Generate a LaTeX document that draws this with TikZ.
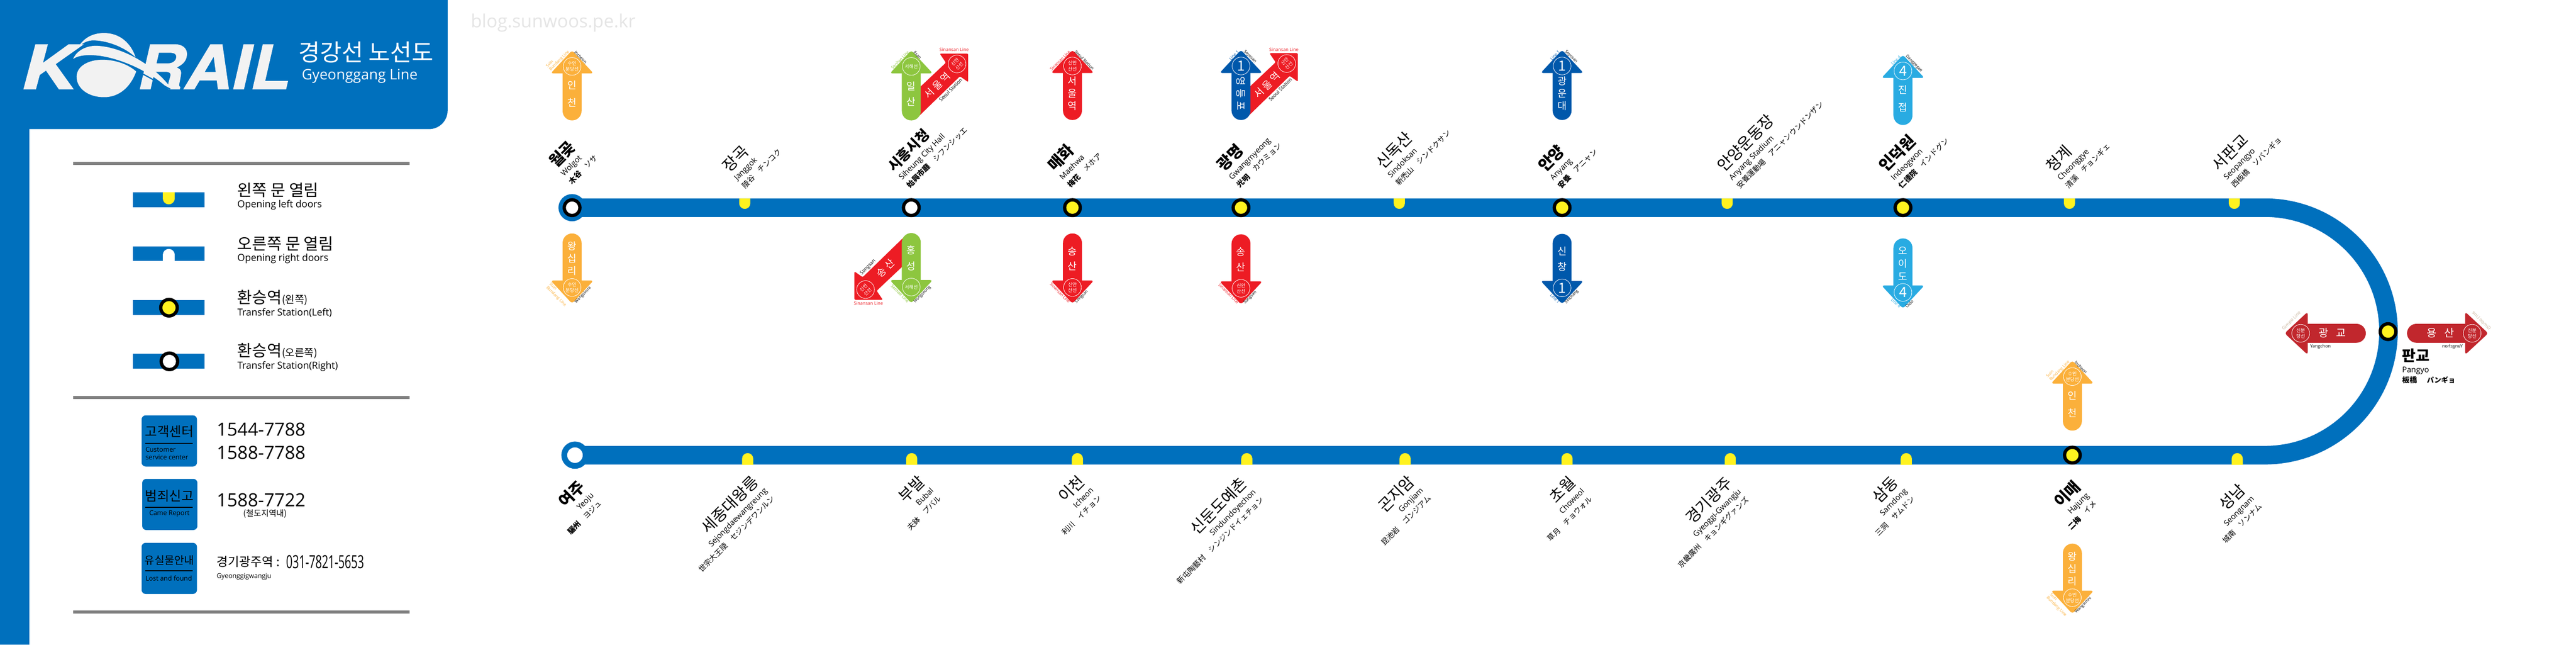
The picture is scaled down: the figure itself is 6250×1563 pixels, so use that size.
\documentclass[tikz,border=0pt]{standalone}
\usepackage{fontspec}
\setmainfont{Open Sans}
\newfontfamily\krfont{Noto Sans CJK KR}
\newfontfamily\jpfont{Noto Sans CJK JP}
\newfontfamily\logofont[FakeBold=1.5]{TeX Gyre Heros}
\newcommand{\fs}[1]{\fontsize{#1}{#1}\selectfont}
\definecolor{korblue}{HTML}{0070BD}
\definecolor{dooryel}{HTML}{FFF21F}
\definecolor{suinc}{HTML}{FBB03B}
\definecolor{seohaec}{HTML}{8DC63F}
\definecolor{sinanc}{HTML}{ED1C24}
\definecolor{lineonec}{HTML}{0058AB}
\definecolor{linefourc}{HTML}{29ABE2}
\definecolor{gimpoc}{HTML}{C1272D}
\definecolor{gimpolbl}{HTML}{C7B299}
\tikzset{
  stnup/.style={rotate=45,anchor=south west,align=left,inner sep=0pt,font=\fontsize{19}{24}\selectfont},
  stndn/.style={rotate=45,anchor=north east,align=right,inner sep=0pt,font=\fontsize{19}{24}\selectfont},
  ringyel/.style={circle,draw=black,fill=dooryel,line width=8pt,minimum size=38pt,inner sep=0pt},
  ringwht/.style={circle,draw=black,fill=white,line width=8pt,minimum size=38pt,inner sep=0pt},
  signcirc/.style={circle,draw=white,line width=1pt,minimum size=43pt,inner sep=0pt,align=center,text=white,font=\krfont\fontsize{11.5}{14}\selectfont},
  signtxt/.style={align=center,inner sep=0pt,text=white,font=\krfont\fontsize{24}{26}\selectfont},
  sidelbl/.style={inner sep=1pt,align=left,font=\fontsize{10}{11}\selectfont},
  legko/.style={anchor=west,inner sep=0pt,font=\krfont\fontsize{39}{41}\selectfont},
  legen/.style={anchor=west,inner sep=0pt,font=\fontsize{23.5}{26}\selectfont},
  phone/.style={anchor=west,inner sep=0pt,font=\fontsize{44}{46}\selectfont},
  infobox/.style={fill=korblue,rounded corners=10pt},
  infoko/.style={inner sep=0pt,font=\krfont\fontsize{32}{33}\selectfont},
  infoen/.style={inner sep=0pt,align=left,font=\fontsize{16}{18}\selectfont}
}
% up or down sign: x, tip y, direction, colour, circle, shaft, left, right, name
\newcommand{\linesign}[9]{
\begin{scope}[shift={(#1,#2)},yscale=#3,name prefix=#9-]
\ifnum#3=1 \def\lblL{south east}\def\lblR{south west}\def\nameY{103}\else \def\lblL{north east}\def\lblR{north west}\def\nameY{106}\fi
\fill[#4,rounded corners=6pt] (0,-3) -- (52,53) -- (-52,53) -- cycle;
\fill[#4] (-23,45) -- (23,45) -- (23,144) arc[start angle=0,end angle=180,radius=23] -- cycle;
\node[signcirc] (circ) at (0,36) {#5};
\node[signtxt] (name) at (0,\nameY) {#6};
\node[sidelbl,text=#4,rotate=45*#3,anchor=\lblL] (lbl) at (-3,3) {#7};
\node[sidelbl,rotate=-45*#3,anchor=\lblR] (dst) at (3,3) {#8};
\end{scope}
}
% the red Sinansan sign behind a line sign
\newcommand{\seoulsign}[6]{
\begin{scope}[shift={(#1,#2)},xscale=#3,yscale=#3,name prefix=#6-]
\ifnum#3=1 \def\lblS{north east}\else \def\lblS{south west}\fi
\fill[sinanc,rounded corners=3pt] (15,92) -- (84,27) -- (69,5) -- (138,5) -- (138,74) -- (118,60) -- (15,160) -- cycle;
\node[signcirc,rotate=45] (circ) at (111,30) {신안\\산선};
\node[signtxt,rotate=45] (name) at (63,82) {#4};
\node[sidelbl,text=sinanc,font=\fontsize{11}{12}\selectfont] (lbl) at (104,-4) {Sinansan Line};
\node[sidelbl,rotate=45,anchor=\lblS,font=\fontsize{12}{13}\selectfont] (dst) at (118,62) {#5};
\end{scope}
}
% side sign at Pangyo: tip x, y, direction, text, name
\newcommand{\gimposign}[5]{
\begin{scope}[shift={(#1,#2)},xscale=#3,name prefix=#5-]
\fill[gimpoc,rounded corners=6pt] (-3,0) -- (53,-52) -- (53,52) -- cycle;
\fill[gimpoc] (45,-23) -- (171,-23) arc[start angle=-90,end angle=90,radius=23] -- (45,23) -- cycle;
\node[signcirc] (circ) at (36,0) {신분\\당선};
\node[signtxt,font=\krfont\fontsize{26}{28}\selectfont] (name) at (113,-1) {#4};
\end{scope}
}
\begin{document}
\begin{tikzpicture}[x=1pt,y=1pt,yscale=-1]
\useasboundingbox (0,0) rectangle (6250,1563);
\fill[white] (0,0) rectangle (6250,1563);
% header and left bar
\fill[korblue] (0,0) -- (1086,0) -- (1086,268) arc[start angle=0,end angle=90,radius=45] -- (71,313) -- (71,1563) -- (0,1563) -- cycle;
\begin{scope}[xscale=0.765,yscale=0.51]
\fill[white!95!black] (245,232) .. controls (262,185) and (290,157) .. (330,157) .. controls (380,157) and (415,205) .. (430,272) .. controls (395,225) and (345,195) .. (300,192) .. controls (275,190) and (255,210) .. (245,232) -- cycle;
\fill[white!95!black] (232,280) .. controls (245,235) and (280,215) .. (310,218) .. controls (390,225) and (490,310) .. (545,424) -- (535,424) .. controls (490,355) and (400,285) .. (320,266) .. controls (280,258) and (250,262) .. (232,280) -- cycle;
\fill[white!95!black] (243,365) .. controls (243,315) and (280,284) .. (325,284) .. controls (370,284) and (410,310) .. (432,340) .. controls (415,410) and (380,462) .. (330,462) .. controls (280,462) and (243,420) .. (243,365) -- cycle;
\end{scope}
\node[anchor=west,inner sep=0pt,text=white!95!black,xscale=1.25,font=\logofont\bfseries\itshape\fontsize{147}{150}\selectfont] (logoK) at (52,162) {K};
\node[anchor=west,inner sep=0pt,text=white!95!black,xscale=1.08,font=\logofont\bfseries\itshape\fontsize{147}{150}\selectfont] (logoR) at (334,162) {RAIL};
\draw[korblue,line width=3pt] (331,172) .. controls (360,185) and (390,205) .. (413,216);
\node[anchor=west,inner sep=0pt,text=white,font=\krfont\fontsize{57}{59}\selectfont] (title) at (724,127) {경강선 노선도};
\node[anchor=west,inner sep=0pt,text=white,font=\fontsize{35}{38}\selectfont] (titleen) at (732,184) {Gyeonggang Line};
\node[anchor=west,inner sep=0pt,text=black!10,font=\fontsize{44}{46}\selectfont] (blog) at (1142,56) {blog.sunwoos.pe.kr};
% legend
\foreach \ly in {396,963.5,1484} \fill[gray] (177,\ly-3.5) rectangle (994,\ly+3.5);
\foreach \ly in {484,615,746,876} \fill[korblue] (322,\ly-18) rectangle (496.5,\ly+18);
\fill[dooryel] (395,466) -- (395,481) arc[start angle=180,end angle=0,radius=14.5] -- (424,466) -- cycle;
\fill[white] (395,633) -- (395,618) arc[start angle=-180,end angle=0,radius=14.5] -- (424,633) -- cycle;
\node[ringyel,minimum size=40pt] (legY) at (410,746) {};
\node[ringwht,minimum size=40pt] (legW) at (411,876) {};
\node[legko] (lg1) at (576,461) {왼쪽 문 열림};
\node[legen] (lg1e) at (576,497) {Opening left doors};
\node[legko] (lg2) at (576,591) {오른쪽 문 열림};
\node[legen] (lg2e) at (576,627.5) {Opening right doors};
\node[legko] (lg3) at (576,722) {환승역{\fontsize{25}{27}\selectfont(왼쪽)}};
\node[legen] (lg3e) at (576,759) {Transfer Station(Left)};
\node[legko] (lg4) at (576,851) {환승역{\fontsize{25}{27}\selectfont(오른쪽)}};
\node[legen] (lg4e) at (576,888.5) {Transfer Station(Right)};
% info boxes
\fill[infobox] (343.5,1007) rectangle (478,1131);
\fill[infobox] (345,1161) rectangle (479,1285);
\fill[infobox] (343.5,1316) rectangle (478,1440);
\foreach \ly in {1075,1230,1384} \fill[black] (353,\ly-1.5) rectangle (468,\ly+1.5);
\node[infoko] (cs) at (411,1046) {고객센터};
\node[infoen,anchor=north west] (cse) at (353,1084) {Customer\\service center};
\node[infoko] (cr) at (411,1202) {범죄신고};
\node[infoen] (cre) at (411,1246) {Came Report};
\node[infoko,font=\krfont\fontsize{26}{28}\selectfont] (lf) at (411,1358) {유실물안내};
\node[infoen,anchor=west] (lfe) at (353,1402) {Lost and found};
\node[phone] (ph1) at (525.6,1041) {1544-7788};
\node[phone] (ph2) at (525.6,1098) {1588-7788};
\node[phone] (ph3) at (525.6,1213) {1588-7722};
\node[inner sep=0pt,font=\krfont\fontsize{20}{22}\selectfont] (ph3n) at (643,1246) {(철도지역내)};
\node[anchor=west,inner sep=0pt,font=\krfont\fontsize{30}{32}\selectfont] (ph4) at (525.6,1362) {경기광주역 :};
\node[anchor=west,inner sep=0pt,xscale=0.62,font=\fontsize{44}{46}\selectfont] (ph4n) at (694,1362) {031-7821-5653};
\node[anchor=west,inner sep=0pt,font=\fontsize{16}{18}\selectfont] (ph4e) at (525.6,1398.5) {Gyeonggigwangju};
% the line
\coordinate (wolgot) at (1388,503.5);
\coordinate (yeoju) at (1395,1103.5);
\fill[korblue] (wolgot) circle[radius=33];
\draw[korblue,line width=45pt] (wolgot) -- (5495,503.5) .. controls (5661,503.5) and (5795,637.8) .. (5795,803.5) .. controls (5795,969.2) and (5661,1103.5) .. (5495,1103.5) -- (yeoju);
\foreach \sx in {1807,3395,4190.5,5021,5421} \fill[dooryel] (\sx-13.5,481) -- (\sx-13.5,493) arc[start angle=180,end angle=0,radius=13.5] -- (\sx+13.5,481) -- cycle;
\foreach \sx in {1814,2212,2614,3025,3409,3802,4198,4625,5428} \fill[dooryel] (\sx-13.5,1127) -- (\sx-13.5,1112) arc[start angle=-180,end angle=0,radius=13.5] -- (\sx+13.5,1127) -- cycle;
\node[ringwht] (stWolgot) at (wolgot) {};
\node[circle,draw=korblue,fill=white,line width=14pt,minimum size=52pt,inner sep=0pt] (stYeoju) at (yeoju) {};
\node[ringwht] (stSiheung) at (2211,503.5) {};
\node[ringyel] (stMaehwa) at (2602,503.5) {};
\node[ringyel] (stGwangmyeong) at (3011,503.5) {};
\node[ringyel] (stAnyang) at (3790,503.5) {};
\node[ringyel] (stIndeogwon) at (4617,503.5) {};
\node[ringyel] (stPangyo) at (5794,804) {};
\node[ringyel] (stImae) at (5028,1103.5) {};
% station names over the line
\foreach \ax/\ay/\wt/\ko/\en/\ha/\ka [count=\i] in {
  1389/449/\bfseries/월곶/Wolgot/木谷/ソサ,
  1809/459/\mdseries/장곡/Janggok/陵谷/チンコク,
  2209/458/\bfseries/\fs{34}시흥시청/Siheung City Hall/始興市廳/シフンシッエ,
  2599/457/\bfseries/매화/Maehwa/梅花/メホア,
  3010/457/\bfseries/광명/Gwangmyeong/光明/カウミョン,
  3395/452/\mdseries/신독산/Sindoksan/新禿山/シンドクサン,
  3789/459/\bfseries/안양/Anyang/安養/アニャン,
  4223/459/\mdseries/안양운동장/Anyang Stadium/安養運動場/アニャンウンドンザン,
  4616/459/\bfseries/인덕원/Indeogwon/仁德院/インドグン,
  5020/459/\mdseries/청계/Cheonggye/清溪/チョンギェ,
  5423/457/\mdseries/서판교/Seopangyo/西板橋/ソパンギョ}
  \node[stnup] (up\i) at (\ax,\ay) {{\krfont\wt\fs{38}\ko}\\[4pt]\en\\[3pt]{\krfont\wt\fs{18}\ha}\hspace{18pt}{\jpfont\fs{18}\ka}};
% station names under the line
\foreach \ax/\ay/\wt/\ko/\en/\ha/\ka [count=\i] in {
  1399/1160/\bfseries/여주/Yeoju/驪州/ヨジュ,
  1820/1149/\mdseries/세종대왕릉/Sejongdaewangreung/世宗大王陵/セジンデワンルン,
  2224/1149/\mdseries/부발/Bubal/夫鉢/プバル,
  2612/1148/\mdseries/이천/Icheon/利川/イチョン,
  3006/1152/\mdseries/신둔도예촌/Sindundoyechon/新屯陶藝村/シンジンドイェチョン,
  3412/1148/\mdseries/곤지암/Gonjiam/昆池岩/ゴンジアム,
  3803/1150/\mdseries/초월/Choweol/草月/チョウォル,
  4183/1151/\mdseries/경기광주/Gyeoggi-Gwangju/京畿廣州/キョンギグァンズ,
  4586/1150/\mdseries/삼동/Samdong/三洞/サムドン,
  5027/1160/\bfseries/이매/Hajung/二梅/イメ,
  5428/1168/\mdseries/성남/Seongnam/城南/ソンナム}
  \node[stndn] (dn\i) at (\ax,\ay) {{\krfont\wt\fs{38}\ko}\\[4pt]\en\\[3pt]{\krfont\wt\fs{18}\ha}\hspace{18pt}{\jpfont\fs{18}\ka}};
\node[anchor=north west,inner sep=0pt,align=left,font=\fontsize{19}{24}\selectfont] (panName) at (5828,845) {{\krfont\bfseries\fs{36}판교}\\[4pt]Pangyo\\{\krfont\bfseries\fs{18}板橋}\hspace{24pt}{\jpfont\bfseries\fs{17}パンギョ}};
% line signs
\linesign{1388}{125}{1}{suinc}{수인\\분당선}{인\\[16pt]천}{Suin\\Bundang Line}{Incheon}{incheonA}
\linesign{1388}{733}{-1}{suinc}{수인\\분당선}{왕\\[4pt]십\\[4pt]리}{Suin\\Bundang Line}{Wangsimni}{wangsimniA}
\seoulsign{2211}{125}{1}{서 울 역}{Seoul Station}{seoulA}
\linesign{2211}{125}{1}{seohaec}{서해선}{일\\[12pt]산}{Seohae Line}{Ilsan}{ilsan}
\seoulsign{2211}{732}{-1}{송 산}{Songsan}{songsanA}
\linesign{2211}{732}{-1}{seohaec}{서해선}{홍\\[12pt]성}{Seohae Line}{Hongseong}{hongseong}
\linesign{2602}{124}{1}{sinanc}{신안\\산선}{서\\[4pt]울\\[4pt]역}{Sinansan Line}{Seoul Station}{seoulB}
\linesign{2602}{733}{-1}{sinanc}{신안\\산선}{송\\[11pt]산}{Sinansan Line}{Songsan}{songsanB}
\seoulsign{3011}{124}{1}{서 울 역}{Seoul Station}{seoulC}
\linesign{3011}{124}{1}{lineonec}{\fs{34}1}{\rotatebox{-90}{영\hspace{8pt}등\hspace{8pt}포}}{Line 1}{Soyosan}{yeongdeungpo}
\linesign{3011}{735}{-1}{sinanc}{신안\\산선}{송\\[11pt]산}{Sinansan Line}{Songsan}{songsanC}
\linesign{3790}{124}{1}{lineonec}{\fs{34}1}{광\\[4pt]운\\[4pt]대}{Line 1}{Soyosan}{gwangundae}
\linesign{3790}{734}{-1}{lineonec}{\fs{34}1}{신\\[11pt]창}{Line 1}{Sinchang}{sinchang}
\linesign{4617}{136}{1}{linefourc}{\fs{34}4}{진\\[17pt]접}{Line 4}{Danggogae}{jinjeop}
\linesign{4617}{745}{-1}{linefourc}{\fs{34}4}{오\\[5pt]이\\[5pt]도}{Line 4}{Oido}{oido}
\linesign{5028}{877}{1}{suinc}{수인\\분당선}{인\\[16pt]천}{Suin\\Bundang Line}{Incheon}{incheonB}
\linesign{5028}{1485}{-1}{suinc}{수인\\분당선}{왕\\[4pt]십\\[4pt]리}{Suin\\Bundang Line}{Wangsimni}{wangsimniB}
% Gimpo signs at Pangyo
\gimposign{5546}{808}{1}{광\hspace{18pt}교}{gwanggyo}
\gimposign{6034}{808}{-1}{용\hspace{18pt}산}{yongsan}
\node[rotate=45,text=gimpolbl,inner sep=0pt,font=\fontsize{11}{12}\selectfont] (gimpoL) at (5560,778) {Gimpo Line};
\node[inner sep=0pt,font=\fontsize{11}{12}\selectfont] (yangL) at (5630,840) {Yangchon};
\node[xscale=-1,rotate=45,text=gimpolbl,inner sep=0pt,font=\fontsize{11}{12}\selectfont] (gimpoR) at (6020,778) {Gimpo Line};
\node[xscale=-1,inner sep=0pt,font=\fontsize{11}{12}\selectfont] (yangR) at (5950,840) {Yangchon};
\end{tikzpicture}
\end{document}
